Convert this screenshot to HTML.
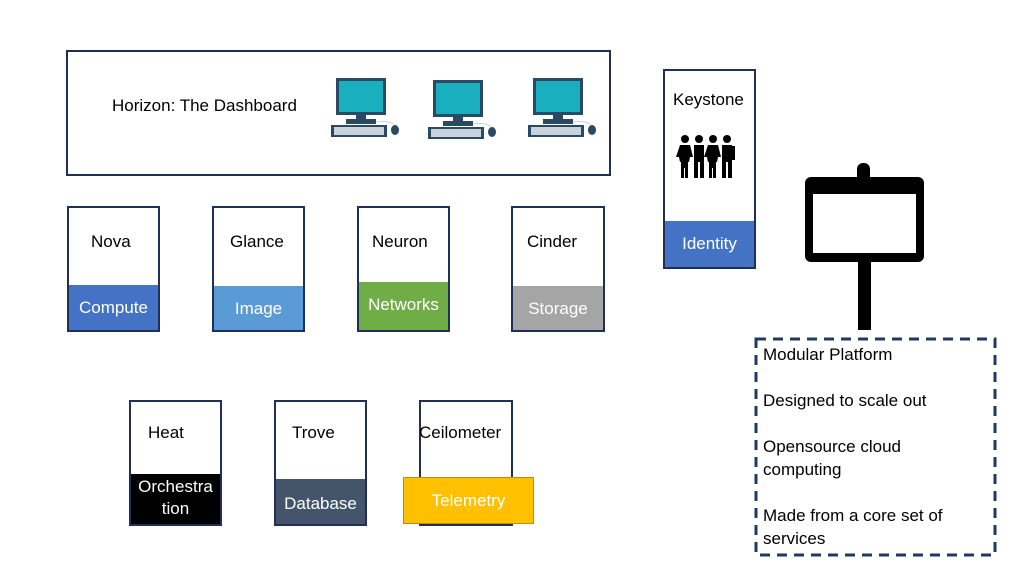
<!DOCTYPE html>
<html><head><style>
body{margin:0;width:1024px;height:576px;background:#fff;position:relative;font-family:"Liberation Sans",sans-serif;overflow:hidden}
.b{position:absolute;border:2px solid #1f2f55;box-sizing:border-box;background:#fff}
.t{position:absolute;font-size:17px;color:#000;white-space:nowrap}
.band{position:absolute;left:0;right:0;bottom:0;color:#fff;font-size:17px;text-align:center}
</style></head><body>
<div class="b" style="left:66px;top:50px;width:545px;height:126px"></div>
<div class="t" style="left:112px;top:96px">Horizon: The Dashboard</div>
<div class="b" style="left:663px;top:69px;width:93px;height:200px"><div class="t" style="left:8px;top:19px">Keystone</div><div class="band" style="height:46px;line-height:46px;background:#4472c4">Identity</div></div>
<svg style="position:absolute;left:0;top:0" width="1024" height="576">
<defs><g id="pc">
<rect x="5" y="0" width="50" height="37" fill="#2a4a63"/>
<rect x="8" y="3" width="44" height="31" fill="#1aafbe"/>
<rect x="25" y="37" width="10" height="5" fill="#2a4a63"/>
<rect x="15" y="41" width="30" height="5" fill="#2a4a63"/>
<rect x="0" y="47" width="56" height="12" fill="#2a4a63"/>
<rect x="3" y="49" width="50" height="8" fill="#c9d3dc"/>
<ellipse cx="64" cy="52" rx="4" ry="5" fill="#2a4a63"/>
<path d="M45 44 Q58 42 63 47" stroke="#c9d3dc" fill="none"/>
</g></defs>
<use href="#pc" x="331" y="78"/>
<use href="#pc" x="428" y="80"/>
<use href="#pc" x="528" y="78"/>
<rect x="857" y="163" width="13" height="20" rx="6" fill="#000"/>
<rect x="805" y="177" width="119" height="85" rx="6" fill="#000"/>
<rect x="813" y="194" width="103" height="59" fill="#fff"/>
<rect x="858" y="262" width="13" height="68" fill="#000"/>
<rect x="756" y="339" width="239" height="216" fill="none" stroke="#1f3864" stroke-width="3" stroke-dasharray="10 7"/>
<g fill="#000">
<g id="pp"><circle cx="685" cy="139" r="4"/><path d="M680 145h10l3 12h-3l-1 5h-1v16h-3v-10h-1v10h-3v-16h-1l-1-5h-3z"/></g>
<g transform="translate(14,0)"><circle cx="685" cy="139" r="4"/><rect x="680" y="145" width="10" height="17"/><rect x="680" y="160" width="4" height="18"/><rect x="686" y="160" width="4" height="18"/></g>
<use href="#pp" x="28"/>
<g transform="translate(42,0)"><circle cx="685" cy="139" r="4"/><rect x="680" y="145" width="10" height="17"/><rect x="680" y="160" width="4" height="18"/><rect x="686" y="160" width="4" height="18"/><rect x="690" y="146" width="3" height="14"/></g>
</g>
</svg>

<div class="b" style="left:67px;top:206px;width:93px;height:126px"><div class="t" style="left:22px;top:24px">Nova</div><div class="band" style="height:45px;line-height:45px;background:#4472c4">Compute</div></div>
<div class="b" style="left:212px;top:206px;width:93px;height:126px"><div class="t" style="left:16px;top:24px">Glance</div><div class="band" style="height:44px;line-height:46px;background:#5b9bd5">Image</div></div>
<div class="b" style="left:357px;top:206px;width:93px;height:126px"><div class="t" style="left:13px;top:24px">Neuron</div><div class="band" style="height:48px;line-height:46px;background:#70ad47">Networks</div></div>
<div class="b" style="left:511px;top:206px;width:94px;height:126px"><div class="t" style="left:14px;top:24px">Cinder</div><div class="band" style="height:44px;line-height:46px;background:#a5a5a5">Storage</div></div>

<div class="b" style="left:129px;top:400px;width:93px;height:126px"><div class="t" style="left:17px;top:21px">Heat</div><div class="band" style="height:48px;line-height:22px;background:#000;padding-top:2px">Orchestra<br>tion</div></div>
<div class="b" style="left:274px;top:400px;width:93px;height:126px"><div class="t" style="left:16px;top:21px">Trove</div><div class="band" style="height:45px;line-height:50px;background:#44546a">Database</div></div>
<div class="b" style="left:419px;top:400px;width:94px;height:126px"><div class="t" style="left:-2px;top:21px">Ceilometer</div></div>
<div style="position:absolute;left:403px;top:477px;width:131px;height:47px;background:#ffc000;border:1px solid #b8900a;box-sizing:border-box;color:#fff;font-size:17px;text-align:center;line-height:46px">Telemetry</div>

<div class="t" style="left:763px;top:343px;line-height:23px">Modular Platform<br><br>Designed to scale out<br><br>Opensource cloud<br>computing<br><br>Made from a core set of<br>services</div>
</body></html>
